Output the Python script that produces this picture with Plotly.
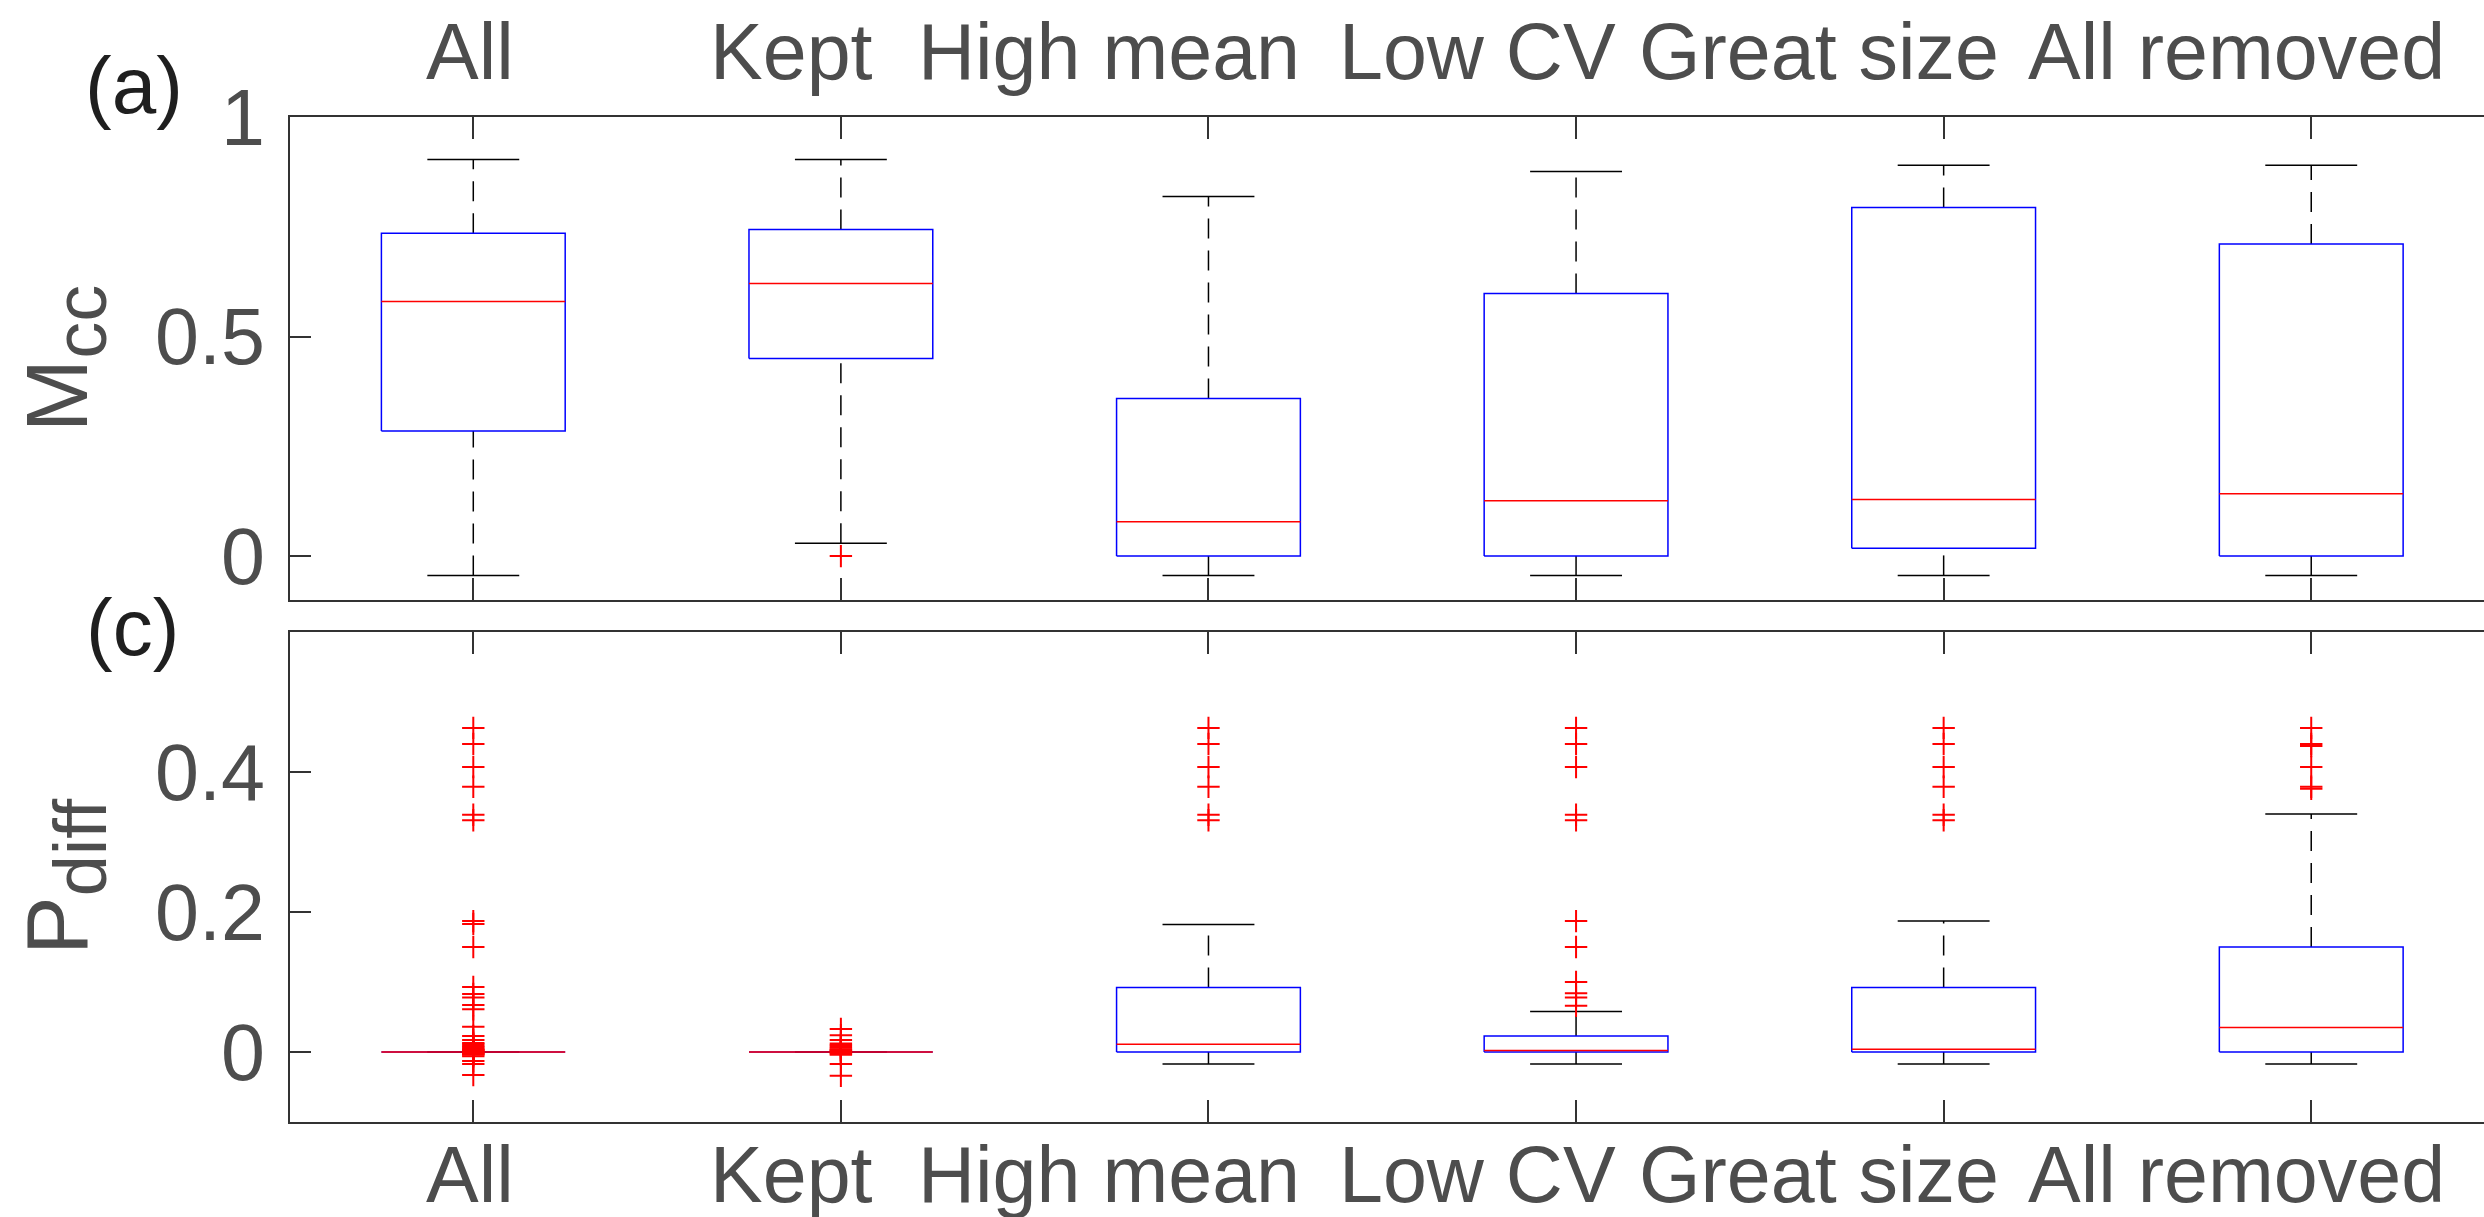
import plotly.graph_objects as go

# ---------------- data ----------------
categories = ["All", "Kept", "High mean", "Low CV", "Great size", "All removed"]

# panel (a): M_cc box statistics
mcc_lo = [-0.044, 0.029, -0.044, -0.044, -0.044, -0.044]
mcc_q1 = [0.285, 0.450, 0.0, 0.0, 0.018, 0.0]
mcc_med = [0.580, 0.621, 0.078, 0.126, 0.129, 0.142]
mcc_q3 = [0.735, 0.744, 0.359, 0.598, 0.794, 0.711]
mcc_hi = [0.903, 0.903, 0.819, 0.876, 0.890, 0.890]
mcc_out = [[], [0.0], [], [], [], []]

# panel (c): P_diff box statistics
pdiff_lo = [0.0, 0.0, -0.017, -0.017, -0.017, -0.017]
pdiff_q1 = [0.0, 0.0, 0.0, 0.0, 0.0, 0.0]
pdiff_med = [0.0, 0.0, 0.011, 0.002, 0.004, 0.035]
pdiff_q3 = [0.0, 0.0, 0.092, 0.023, 0.092, 0.150]
pdiff_hi = [0.0, 0.0, 0.182, 0.058, 0.187, 0.340]
pdiff_out = [
    [0.463, 0.440, 0.407, 0.379, 0.339, 0.331, 0.187, 0.183, 0.150, 0.093, 0.083,
     0.078, 0.067, 0.061, 0.036, 0.023, 0.017, 0.013, 0.011, 0.009, 0.007, 0.005,
     0.004, 0.003, 0.002, 0.001, -0.001, -0.002, -0.003, -0.004, -0.006, -0.013,
     -0.017, -0.033],
    [0.033, 0.024, 0.017, 0.012, 0.010, 0.008, 0.006, 0.004, 0.003, 0.002, 0.001,
     -0.001, -0.002, -0.004, -0.017, -0.034],
    [0.463, 0.440, 0.407, 0.379, 0.339, 0.331],
    [0.463, 0.440, 0.407, 0.339, 0.331, 0.187, 0.150, 0.100, 0.084, 0.078, 0.066],
    [0.463, 0.440, 0.407, 0.379, 0.339, 0.331],
    [0.463, 0.440, 0.437, 0.407, 0.379, 0.376],
]

# ---------------- style / layout constants ----------------
FONT = "Arial, Liberation Sans, Helvetica, sans-serif"
TXT = "#4d4d4d"
AX = "#333333"
W, H = 2484, 1217
BOX_HALF = 0.25
CAP_HALF = 0.125
LABEL_SIZE = 79
# horizontal centres (axis units) where the category names are written
LABEL_X = [0.99, 1.867, 2.729, 3.733, 4.661, 5.798]

fig = go.Figure()


def add_panel(lo, q1, med, q3, hi, outs, xa, ya):
    pos = list(range(1, len(categories) + 1))
    wx, wy, cx, cy, bx, by, mx, my, ox, oy = [], [], [], [], [], [], [], [], [], []
    for i, x in enumerate(pos):
        wx += [x, x, None, x, x, None]
        wy += [q3[i], hi[i], None, lo[i], q1[i], None]
        cx += [x - CAP_HALF, x + CAP_HALF, None, x - CAP_HALF, x + CAP_HALF, None]
        cy += [hi[i], hi[i], None, lo[i], lo[i], None]
        bx += [x - BOX_HALF, x + BOX_HALF, x + BOX_HALF, x - BOX_HALF, x - BOX_HALF, None]
        by += [q1[i], q1[i], q3[i], q3[i], q1[i], None]
        mx += [x - BOX_HALF, x + BOX_HALF, None]
        my += [med[i], med[i], None]
        for v in outs[i]:
            ox.append(x)
            oy.append(v)
    common = dict(xaxis=xa, yaxis=ya, showlegend=False, hoverinfo="skip")
    fig.add_trace(go.Scatter(x=wx, y=wy, mode="lines",
                             line=dict(color="black", width=1.5, dash="20px,12px"), **common))
    fig.add_trace(go.Scatter(x=cx, y=cy, mode="lines",
                             line=dict(color="black", width=1.5), **common))
    fig.add_trace(go.Scatter(x=bx, y=by, mode="lines",
                             line=dict(color="#0000ff", width=1.5), **common))
    fig.add_trace(go.Scatter(x=mx, y=my, mode="lines",
                             line=dict(color="#ff0000", width=1.5), **common))
    fig.add_trace(go.Scatter(x=ox, y=oy, mode="markers",
                             marker=dict(symbol="cross-thin", size=16,
                                         line=dict(color="#ff0000", width=2)),
                             **common))


add_panel(mcc_lo, mcc_q1, mcc_med, mcc_q3, mcc_hi, mcc_out, "x", "y")
add_panel(pdiff_lo, pdiff_q1, pdiff_med, pdiff_q3, pdiff_hi, pdiff_out, "x2", "y2")

x_left = 289.5 / W
x_range = [0.5, 6.47]
tickvals_x = list(range(1, len(categories) + 1))

xcommon = dict(domain=[x_left, 1.0], range=x_range, tickvals=tickvals_x, ticktext=categories,
               ticks="inside", ticklen=22, tickwidth=1.5, tickcolor=AX,
               showline=True, linecolor=AX, linewidth=1.5, mirror="ticks",
               showgrid=False, zeroline=False, automargin=False, showticklabels=False)
ycommon = dict(ticks="inside", ticklen=22, tickwidth=1.5, tickcolor=AX,
               showline=True, linecolor=AX, linewidth=1.5, mirror=False,
               showgrid=False, zeroline=False, ticklabelstandoff=7, automargin=False,
               tickfont=dict(family=FONT, size=LABEL_SIZE, color=TXT))
yright = dict(ticks="inside", ticklen=12, tickwidth=1.5, tickcolor=AX,
              showline=False, showgrid=False, zeroline=False, showticklabels=False,
              side="right", automargin=False)

top_dom = [(H - 600) / H, (H - 117) / H]
bot_dom = [(H - 1122) / H, (H - 632) / H]

annotations = [
    dict(text="(a)", xref="paper", yref="paper", x=134 / W, y=1 - 85 / H,
         xanchor="center", yanchor="middle", showarrow=False,
         font=dict(family=FONT, size=80, color="#1f1f1f")),
    dict(text="(c)", xref="paper", yref="paper", x=132 / W, y=1 - 627 / H,
         xanchor="center", yanchor="middle", showarrow=False,
         font=dict(family=FONT, size=80, color="#1f1f1f")),
]
# category names above panel (a) and below panel (c)
for xref, ycen in (("x", 51.5), ("x2", 1174)):
    for name, lx in zip(categories, LABEL_X):
        annotations.append(dict(text=name, xref=xref, yref="paper", x=lx, y=1 - ycen / H,
                                xanchor="center", yanchor="middle", showarrow=False,
                                font=dict(family=FONT, size=LABEL_SIZE, color=TXT)))

SUB = '<sub><span style="font-size:74px">{}</span></sub>'

fig.update_layout(
    template="none",
    width=W, height=H,
    margin=dict(l=0, r=0, t=0, b=0, pad=0),
    paper_bgcolor="white", plot_bgcolor="white",
    font=dict(family=FONT, color=TXT),
    xaxis=dict(anchor="y", side="top", **xcommon),
    xaxis2=dict(anchor="y2", side="bottom", **xcommon),
    yaxis=dict(anchor="x", domain=top_dom, range=[-0.1, 1.0],
               tickvals=[0, 0.5, 1], ticktext=["0", "0.5", "1"],
               title=dict(text="M" + SUB.format("cc"), standoff=38,
                          font=dict(family=FONT, size=88, color=TXT)),
               **ycommon),
    yaxis2=dict(anchor="x2", domain=bot_dom, range=[-0.1, 0.6],
                tickvals=[0, 0.2, 0.4], ticktext=["0", "0.2", "0.4"],
                title=dict(text="P" + SUB.format("diff"), standoff=38,
                           font=dict(family=FONT, size=88, color=TXT)),
                **ycommon),
    yaxis3=dict(anchor="x", overlaying="y", range=[-0.1, 1.0], tickvals=[0, 0.5, 1], **yright),
    yaxis4=dict(anchor="x2", overlaying="y2", range=[-0.1, 0.6], tickvals=[0, 0.2, 0.4], **yright),
    annotations=annotations,
)

fig.write_html("out.html", config={"displayModeBar": False},
               post_script="document.body.style.margin='0';document.body.style.overflow='hidden';")
